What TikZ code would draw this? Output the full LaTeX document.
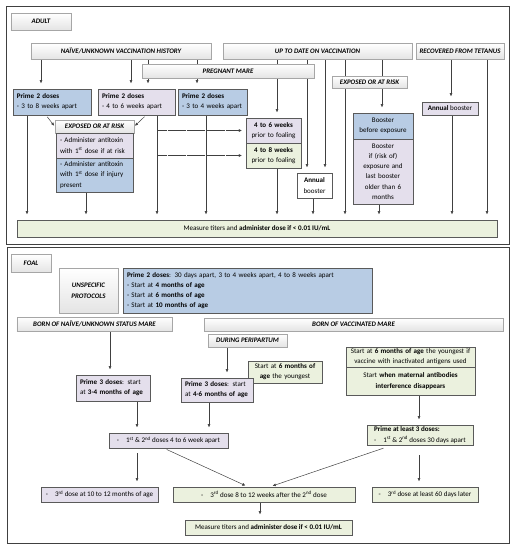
\documentclass[tikz,border=0pt]{standalone}
\usepackage{fontspec}
\setmainfont{Carlito}
\usetikzlibrary{arrows.meta, backgrounds}

\definecolor{ink}{HTML}{404040}
\definecolor{edge}{HTML}{5A5A5A}
\definecolor{hdredge}{HTML}{A6A6A6}
\definecolor{hdrwash}{HTML}{E4E4E4}
\definecolor{blu}{HTML}{B8CCE4}
\definecolor{lav}{HTML}{E4DFEC}
\definecolor{grn}{HTML}{EBF1DE}

\tikzset{
  >={Triangle[length=1.5mm, width=1.3mm]},
  %
  hdr/.style={
    draw=hdredge, line width=0.6pt, top color=white, bottom color=hdrwash,
    inner sep=0pt, align=center, text=black,
    font=\fontsize{9.8}{15}\selectfont\bfseries\itshape,
  },
  box/.style={
    draw=edge, line width=0.7pt, inner xsep=2mm, inner ysep=0pt,
    text=black, font=\fontsize{10}{14.5}\selectfont,
  },
  boxb/.style={box, fill=blu},
  boxl/.style={box, fill=lav},
  boxg/.style={box, fill=grn},
  boxw/.style={box, fill=white},
  %
  flow/.style={draw=ink, line width=0.7pt, ->, shorten >=2.8mm},
  flowdiag/.style={draw=ink, line width=0.7pt, ->, shorten >=0.6mm, shorten <=1mm},
  flowdot/.style={draw=ink, line width=0.6pt, ->, dash pattern=on 0.6pt off 0.9pt, shorten >=2mm},
  link/.style={draw=ink, line width=0.7pt},
  frame/.style={draw=ink, line width=1.4pt},
}

\newcommand{\tab}{-\hspace{3.5mm}}

\begin{document}
\begin{tikzpicture}[x=0.5mm, y=-0.5mm]

  \useasboundingbox (0,0) rectangle (515,550);

  % ---- adult ------------------------------------------------------------
  \node[hdr, minimum width=30mm, minimum height=8.5mm] (adult) at (41,21.5) {ADULT};

  \node[hdr, minimum width=90mm, minimum height=8mm] (naive) at (121,51)
    {NAÏVE/UNKNOWN VACCINATION HISTORY};
  \node[hdr, minimum width=94.5mm, minimum height=8mm] (uptodate) at (317.5,51)
    {UP TO DATE ON VACCINATION};
  \node[hdr, minimum width=44mm, minimum height=8mm] (recovered) at (460,51)
    {RECOVERED FROM TETANUS};
  \node[hdr, minimum width=86mm, minimum height=7mm] (pregnant) at (228,71)
    {PREGNANT MARE};

  \node[boxb, text width=35mm, minimum height=13mm, align=left] (primeA) at (52,102)
    {\textbf{Prime 2 doses}\\- 3 to 8 weeks apart};
  \node[boxl, text width=34.5mm, minimum height=13mm, align=left] (primeB) at (136.5,102)
    {\textbf{Prime 2 doses}\\- 4 to 6 weeks apart};
  \node[boxb, text width=30.5mm, minimum height=13mm, align=left] (primeC) at (212.5,102)
    {\textbf{Prime 2 doses}\\- 3 to 4 weeks apart};

  \node[hdr, minimum width=39.5mm, minimum height=6.5mm] (exposedA) at (94.5,126.5)
    {EXPOSED OR AT RISK};
  \node[boxl, text width=34.5mm, minimum height=12.5mm, align=left] (antitoxA) at (94.5,145.5)
    {- Administer antitoxin\\with 1\textsuperscript{st} dose if at risk};
  \node[boxb, text width=34.5mm, minimum height=17mm, align=left] (antitoxB) at (94.5,175)
    {- Administer antitoxin\\with 1\textsuperscript{st} dose if injury\\present};

  \node[boxl, text width=23.5mm, minimum height=12.5mm, align=center] (wk46) at (273.5,130.5)
    {\textbf{4 to 6 weeks}\\prior to foaling};
  \node[boxg, text width=23.5mm, minimum height=12.5mm, align=center] (wk48) at (273.5,155.5)
    {\textbf{4 to 8 weeks}\\prior to foaling};
  \node[boxw, text width=13.5mm, minimum height=12.5mm, align=center] (annualA) at (314.5,185.5)
    {\textbf{Annual}\\booster};

  \node[hdr, minimum width=37.5mm, minimum height=6mm] (exposedB) at (369.5,82)
    {EXPOSED OR AT RISK};
  \node[boxb, text width=26mm, minimum height=13mm, align=center] (boostA) at (383,126)
    {Booster\\before exposure};
  \node[boxl, text width=26mm, minimum height=32.5mm, align=center] (boostB) at (383,171.5)
    {Booster\\if (risk of)\\exposure and\\last booster\\older than 6\\months};

  \node[boxl, minimum width=28mm, minimum height=6.5mm] (annualB) at (450,108.5)
    {\textbf{Annual} booster};

  \node[boxg, minimum width=240mm, minimum height=8.5mm] (measureA) at (257,228.5)
    {Measure titers and \textbf{administer dose if < 0.01 IU/mL}};

  % ---- foal -------------------------------------------------------------
  \node[hdr, minimum width=20mm, minimum height=9mm] (foal) at (31,263) {FOAL};

  \node[hdr, minimum width=29.5mm, minimum height=22.5mm] (unspec) at (88.5,290.5)
    {UNSPECIFIC\\PROTOCOLS};
  \node[boxb, text width=120.5mm, minimum height=22.5mm, align=left] (primeF) at (247.5,290.5)
    {\textbf{Prime 2 doses}: 30 days apart, 3 to 4 weeks apart, 4 to 8 weeks apart\\
     - Start at \textbf{4 months of age}\\
     - Start at \textbf{6 months of age}\\
     - Start at \textbf{10 months of age}};

  \node[hdr, minimum width=77.5mm, minimum height=7mm] (bornnaive) at (94.5,324)
    {BORN OF NAÏVE/UNKNOWN STATUS MARE};
  \node[hdr, minimum width=149.5mm, minimum height=6.5mm] (bornvacc) at (353.5,324.5)
    {BORN OF VACCINATED MARE};
  \node[hdr, minimum width=39.5mm, minimum height=6.5mm] (peri) at (247.5,340.5)
    {DURING PERIPARTUM};

  \node[boxg, text width=33mm, minimum height=11mm, align=center] (youngest) at (285,372)
    {Start at \textbf{6 months of}\\\textbf{age} the youngest};
  \node[boxl, text width=33mm, minimum height=13mm, align=left] (prime3A) at (113,388)
    {\textbf{Prime 3 doses}: start\\at \textbf{3-4 months of age}};
  \node[boxl, text width=32mm, minimum height=12mm, align=left] (prime3B) at (217,390)
    {\textbf{Prime 3 doses}: start\\at \textbf{4-6 months of age}};

  \node[boxg, text width=60.5mm, minimum height=10mm, align=center] (inactiv) at (410.5,357)
    {Start at \textbf{6 months of age} the youngest if\\vaccine with inactivated antigens used};
  \node[boxg, text width=60.5mm, minimum height=14mm, align=center] (matern) at (410.5,381)
    {Start \textbf{when maternal antibodies}\\\textbf{interference disappears}};

  \node[boxl, minimum width=59.5mm, minimum height=7.5mm] (dose12) at (168.5,440.5)
    {\tab 1\textsuperscript{st} \& 2\textsuperscript{nd} doses 4 to 6 week apart};
  \node[boxg, minimum width=53mm, minimum height=10mm, align=left, inner xsep=1.5mm] (primeL) at (420,435)
    {\textbf{Prime at least 3 doses:}\\\tab 1\textsuperscript{st} \& 2\textsuperscript{nd} doses 30 days apart};

  \node[boxl, minimum width=58.5mm, minimum height=7.5mm] (third1) at (99.5,494.5)
    {\tab 3\textsuperscript{rd} dose at 10 to 12 months of age};
  \node[boxg, minimum width=91mm, minimum height=7.5mm] (third2) at (264,494.5)
    {\tab 3\textsuperscript{rd} dose 8 to 12 weeks after the 2\textsuperscript{nd} dose};
  \node[boxg, minimum width=53mm, minimum height=7.5mm] (third3) at (425,494.5)
    {\tab 3\textsuperscript{rd} dose at least 60 days later};

  \node[boxg, minimum width=83.5mm, minimum height=7.5mm] (measureF) at (268.5,527.5)
    {Measure titers and \textbf{administer dose if < 0.01 IU/mL}};

  % ---- frames and connectors --------------------------------------------
  \begin{scope}[on background layer]
    \draw[frame] (6,6) rectangle (509,244);
    \draw[frame] (7,247) rectangle (509,543);

    % adult: headers down
    \draw[flow] (naive.south -| 41,0) -- (primeA.north -| 41,0);
    \draw[flow] (naive.south -| 131,0) -- (primeB.north -| 131,0);
    \draw[flow] (naive.south -| 148,0) -- (primeB.north -| 148,0);
    \draw[flow] (naive.south -| 197,0) -- (primeC.north -| 197,0);
    \draw[flow] (uptodate.south -| 277,0) -- (wk46.north -| 277,0);
    \draw[flow] (uptodate.south -| 307,0) -- (annualA.north -| 307,0);
    \draw[flow] (uptodate.south -| 325,0) -- (annualA.north -| 325,0);
    \draw[flow] (uptodate.south -| 345,0) -- (measureA.north -| 345,0);
    \draw[link] (uptodate.south -| 382,0) -- (exposedB.north -| 382,0);
    \draw[flow] (exposedB.south -| 382,0) -- (boostA.north -| 382,0);
    \draw[flow] (recovered.south -| 451,0) -- (annualB.north -| 451,0);
    \draw[flow] (recovered.south -| 487,0) -- (measureA.north -| 487,0);

    % adult: exposed or at risk
    \draw[flowdiag] (primeA.south -| 46,0) -- (exposedA.west);
    \draw[flowdiag] (primeB.south -| 146,0) -- (exposedA.east);
    \draw[flowdot] (wk46.west -| 157,0) -- (wk46.west);
    \draw[flowdot] (wk48.west -| 157,0) -- (wk48.west);

    % adult: into measure titers
    \draw[flow] (primeA.south -| 27,0) -- (measureA.north -| 27,0);
    \draw[flow] (antitoxB.south -| 86,0) -- (measureA.north -| 86,0);
    \draw[flow] (primeB.south -| 157,0) -- (measureA.north -| 157,0);
    \draw[flow] (primeC.south -| 206,0) -- (measureA.north -| 206,0);
    \draw[flow] (wk48.south -| 277,0) -- (measureA.north -| 277,0);
    \draw[flow] (annualA.south -| 313,0) -- (measureA.north -| 313,0);
    \draw[flow] (boostB.south -| 379,0) -- (measureA.north -| 379,0);
    \draw[flow] (annualB.south -| 452,0) -- (measureA.north -| 452,0);

    % foal
    \draw[flow] (bornnaive.south -| 110,0) -- (prime3A.north -| 110,0);
    \draw[flow] (peri.south -| 227,0) -- (prime3B.north -| 227,0);
    \draw[flow] (matern.south -| 419,0) -- (primeL.north -| 419,0);
    \draw[flow] (prime3A.south -| 137,0) -- (dose12.north -| 137,0);
    \draw[flow] (prime3B.south -| 209,0) -- (dose12.north -| 209,0);
    \draw[flow, shorten <=2.5mm] (dose12.south -| 137,0) -- (third1.north -| 137,0);
    \draw[flowdiag, shorten <=1.5mm, shorten >=1.5mm] (dose12.south -| 164,0) -- (third2.north -| 248,0);
    \draw[flowdiag, shorten <=4.5mm, shorten >=1.5mm] (primeL.south -| 392,0) -- (third2.north -| 270,0);
    \draw[flow, shorten <=5mm] (primeL.south -| 419,0) -- (third3.north -| 419,0);
    \draw[flow] (third2.south -| 260,0) -- (measureF.north -| 260,0);
  \end{scope}

\end{tikzpicture}
\end{document}
